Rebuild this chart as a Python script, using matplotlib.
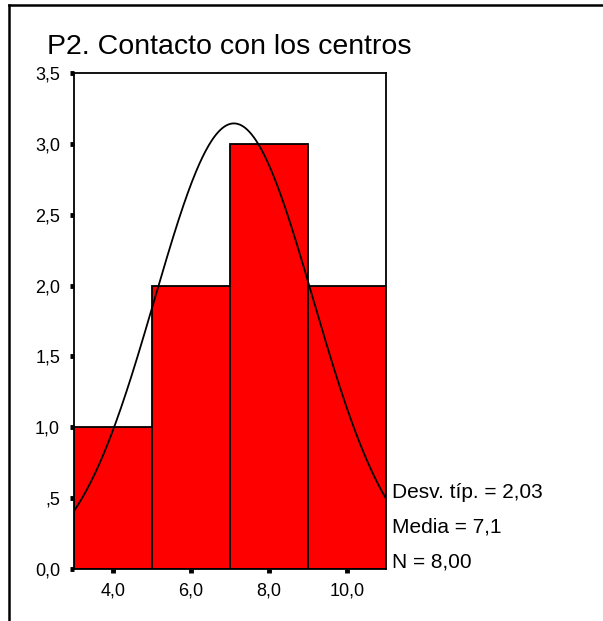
import numpy as np
from matplotlib import pyplot as plt
from matplotlib.lines import Line2D

# datos del histograma
bin_edges = [3.0, 5.0, 7.0, 9.0, 11.0]
counts = [1, 2, 3, 2]
media = 7.1
desv_tip = 2.03
n_casos = 8

x_ticks = [4.0, 6.0, 8.0, 10.0]
x_labels = ["4,0", "6,0", "8,0", "10,0"]
y_ticks = [0.0, 0.5, 1.0, 1.5, 2.0, 2.5, 3.0, 3.5]
y_labels = ["0,0", ",5", "1,0", "1,5", "2,0", "2,5", "3,0", "3,5"]

titulo = "P2. Contacto con los centros"
stats_lines = ["Desv. típ. = 2,03", "Media = 7,1", "N = 8,00"]

plt.rcParams['font.family'] = ['Liberation Sans', 'DejaVu Sans']

W, H = 603, 621
fig = plt.figure(figsize=(W / 100, H / 100), dpi=100)

ax = fig.add_axes([74 / W, 1 - 569 / H, 312 / W, 496 / H])

lefts = bin_edges[:-1]
widths = np.diff(bin_edges)
ax.bar(lefts, counts, width=widths, align='edge', color='#ff0000',
       edgecolor='black', linewidth=1.3)

# curva normal ajustada (como la dibuja SPSS)
xs = np.linspace(bin_edges[0], bin_edges[-1], 300)
bw = widths[0]
ys = n_casos * bw / (desv_tip * np.sqrt(2 * np.pi)) * np.exp(-0.5 * ((xs - media) / desv_tip) ** 2)
ax.plot(xs, ys, color='black', linewidth=1.3)

ax.set_xlim(bin_edges[0], bin_edges[-1])
ax.set_ylim(0, 3.5)
ax.set_xticks(x_ticks)
ax.set_xticklabels(x_labels)
ax.set_yticks(y_ticks)
ax.set_yticklabels(y_labels)
ax.tick_params(axis='both', direction='out', length=3, width=3.5, labelsize=13)
ax.tick_params(axis='y', pad=7)
ax.tick_params(axis='x', pad=7)
for s in ax.spines.values():
    s.set_linewidth(1.3)
    s.set_color('black')

fig.text(47 / W, 1 - 47 / H, titulo, fontsize=20.5, ha='left', va='center')

for i, line in enumerate(stats_lines):
    fig.text(392 / W, 1 - (492 + 35 * i) / H, line, fontsize=15, ha='left', va='center')

# marco exterior (solo arriba e izquierda)
fig.add_artist(Line2D([8.5 / W, 1.0], [1 - 5 / H, 1 - 5 / H], color='black', linewidth=1.8))
fig.add_artist(Line2D([8.5 / W, 8.5 / W], [0.0, 1 - 5 / H], color='black', linewidth=1.8))

fig.savefig("out.png", dpi=100)
